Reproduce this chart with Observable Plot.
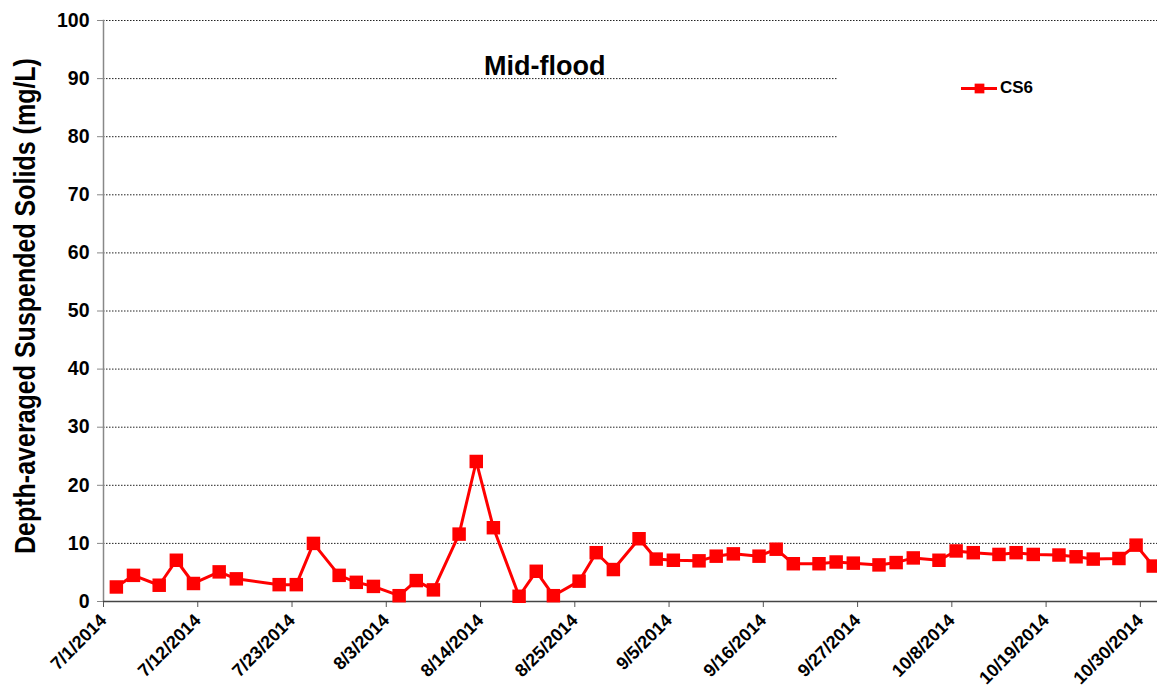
<!DOCTYPE html>
<html>
<head>
<meta charset="utf-8">
<script src="https://cdn.jsdelivr.net/npm/d3@7"></script>
<script src="https://cdn.jsdelivr.net/npm/@observablehq/plot@0.6"></script>
<style>
  body { margin: 0; background: #fff; }
  #wrap { position: relative; width: 1157px; height: 691px; font-family: "Liberation Sans", Arial, sans-serif; }
  #wrap svg { position: absolute; left: 0; top: 0; }
  .title { position: absolute; left: 484px; top: 51px; font-size: 27px; font-weight: bold; color: #000; white-space: nowrap; }
  .legendbox { position: absolute; left: 837px; top: 62px; width: 320px; height: 84px; background: #fff; }
  .legenditem { position: absolute; left: 124px; top: 16px; display: flex; align-items: center; font-size: 17px; font-weight: bold; }
  .ylabel { position: absolute; left: 25px; top: 306px; transform: translate(-50%, -50%) rotate(-90deg) scaleY(1.15); font-size: 25px; font-weight: bold; white-space: nowrap; color: #000; }
</style>
</head>
<body>
<div id="wrap"></div>
<script>
// ---- data ----
const dates = ["2014-07-02","2014-07-04","2014-07-07","2014-07-09","2014-07-11","2014-07-14","2014-07-16",
  "2014-07-21","2014-07-23","2014-07-25","2014-07-28","2014-07-30","2014-08-01","2014-08-04","2014-08-06",
  "2014-08-08","2014-08-11","2014-08-13","2014-08-15","2014-08-18","2014-08-20","2014-08-22","2014-08-25",
  "2014-08-27","2014-08-29","2014-09-01","2014-09-03","2014-09-05","2014-09-08","2014-09-10","2014-09-12",
  "2014-09-15","2014-09-17","2014-09-19","2014-09-22","2014-09-24","2014-09-26","2014-09-29","2014-10-01",
  "2014-10-03","2014-10-06","2014-10-08","2014-10-10","2014-10-13","2014-10-15","2014-10-17","2014-10-20",
  "2014-10-22","2014-10-24","2014-10-27","2014-10-29","2014-10-31"];
const cs6 = [2.5,4.5,2.8,7.1,3.1,5.1,3.9,
  2.9,2.9,10.0,4.5,3.3,2.6,1.0,3.6,
  2.0,11.6,24.1,12.7,0.9,5.2,1.0,3.5,
  8.4,5.5,10.8,7.3,7.1,7.0,7.8,8.2,
  7.8,9.0,6.5,6.5,6.8,6.6,6.3,6.7,
  7.5,7.1,8.7,8.4,8.1,8.4,8.1,8.0,
  7.7,7.3,7.4,9.7,6.1];
const xTickDates = ["2014-07-01","2014-07-12","2014-07-23","2014-08-03","2014-08-14","2014-08-25",
  "2014-09-05","2014-09-16","2014-09-27","2014-10-08","2014-10-19","2014-10-30"];
const xDomain = ["2014-07-01","2014-11-01"];
const yTicks = [0,10,20,30,40,50,60,70,80,90,100];
const seriesName = "CS6";
const titleText = "Mid-flood";
const yLabel = "Depth-averaged Suspended Solids (mg/L)";

// points sit in the middle of their day (date axis, between tick marks)
const data = dates.map((d, i) => ({date: new Date(d + "T12:00:00Z"), value: cs6[i]}));
const xTicks = xTickDates.map(d => new Date(d + "T00:00:00Z"));
const fmt = d => `${d.getUTCMonth() + 1}/${d.getUTCDate()}/${d.getUTCFullYear()}`;
const red = "#ff0000";

const chart = Plot.plot({
  width: 1157,
  height: 691,
  marginLeft: 103,
  marginRight: 0,
  marginTop: 20,
  marginBottom: 90,
  style: {fontFamily: "'Liberation Sans', Arial, sans-serif", fontWeight: "bold", fontSize: "18px", color: "#000", background: "transparent", overflow: "visible"},
  x: {type: "utc", domain: xDomain.map(d => new Date(d + "T00:00:00Z"))},
  y: {domain: [0, 100]},
  marks: [
    Plot.ruleY(yTicks.filter(v => v > 0), {stroke: "#222", strokeWidth: 1, strokeDasharray: "1.5,1.5"}),
    Plot.axisY({ticks: yTicks, tickSize: 6, tickPadding: 8, stroke: "#888", fontSize: 19.5, fontWeight: "bold", label: null}),
    Plot.axisX({ticks: xTicks, tickFormat: () => "", tickSize: 6, stroke: "#555", label: null}),
    Plot.text(xTicks, {x: d => d, frameAnchor: "bottom", text: fmt, rotate: -45, textAnchor: "end", dx: 4, dy: 20, fontSize: 18, fontWeight: "bold", fill: "#000"}),
    Plot.frame({anchor: "left", stroke: "#888", strokeWidth: 1.5}),
    Plot.ruleY([0], {stroke: "#444", strokeWidth: 1.5}),
    Plot.line(data, {x: "date", y: "value", stroke: red, strokeWidth: 3}),
    Plot.dot(data, {x: "date", y: "value", symbol: "square", r: 7.6, fill: red, stroke: "none"})
  ]
});

const wrap = document.getElementById("wrap");
wrap.appendChild(chart);

const box = document.createElement("div");
box.className = "legendbox";
const item = document.createElement("div");
item.className = "legenditem";
const sw = Plot.plot({
  width: 36, height: 14, margin: 0,
  x: {domain: [0, 2], axis: null}, y: {domain: [0, 1], axis: null},
  style: {background: "transparent"},
  marks: [
    Plot.line([[0, 0.5], [2, 0.5]], {stroke: red, strokeWidth: 3}),
    Plot.dot([[1, 0.5]], {symbol: "square", r: 5.5, fill: red})
  ]
});
sw.style.position = "static";
sw.style.marginRight = "3px";
item.appendChild(sw);
const lt = document.createElement("span");
lt.textContent = seriesName;
item.appendChild(lt);
box.appendChild(item);
wrap.appendChild(box);

const t = document.createElement("div");
t.className = "title";
t.textContent = titleText;
wrap.appendChild(t);

const yl = document.createElement("div");
yl.className = "ylabel";
yl.textContent = yLabel;
wrap.appendChild(yl);
</script>
</body>
</html>
